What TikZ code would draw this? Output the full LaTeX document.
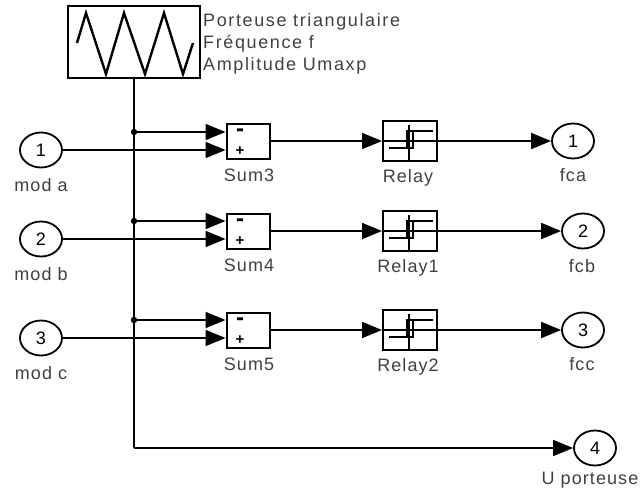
\documentclass[tikz,border=0pt]{standalone}
\usepackage{fontspec}
\setmainfont[LetterSpace=6]{Liberation Sans}
\usetikzlibrary{shapes.geometric, arrows.meta}

\begin{document}
\begin{tikzpicture}[x=1pt, y=-1pt,
    block/.style = {rectangle, draw, line width=2pt, minimum width=43pt, minimum height=35pt, inner sep=0pt},
    relay/.style = {rectangle, draw, line width=2pt, minimum width=54pt, minimum height=40pt, inner sep=0pt},
    port/.style = {ellipse, draw, line width=1.8pt, minimum width=42pt, minimum height=35pt, inner sep=0pt},
    caption/.style = {inner sep=0pt, text=black!75},
    wire/.style = {line width=1.8pt},
    sig/.style = {wire, -{Triangle[length=20pt, width=16pt]}},
    font=\fontsize{18pt}{21.7pt}\selectfont]
  \useasboundingbox (0, 0) rectangle (642, 493);

  % Carrier.
  \node at (134, 42) [rectangle, draw, line width=2pt, minimum width=132pt, minimum height=72pt, name=Carrier] {};
  \draw [line width=2.4pt] (77, 43) -- (86, 13) -- (106, 74) -- (124, 13) -- (145, 74) -- (164, 13) -- (183, 74) -- (193, 43);
  \node at (203, 44) [right, inner sep=0pt, align=left, caption, name=CarrierText] {\addfontfeature{LetterSpace=9}Porteuse triangulaire\\\addfontfeature{LetterSpace=9}Fr\'equence f\\\addfontfeature{LetterSpace=9}Amplitude Umaxp};

  % Inputs.
  \node at (41, 150) [port, name=ModA] {1};
  \node at (41, 239) [port, name=ModB] {2};
  \node at (41, 338) [port, name=ModC] {3};
  \node at (41, 185) [caption, name=ModAText] {mod a};
  \node at (41, 274) [caption, name=ModBText] {mod b};
  \node at (41, 373) [caption, name=ModCText] {mod c};

  % Sums.
  \foreach \name/\y/\label in {SumA/141/Sum3, SumB/231/Sum4, SumC/330/Sum5} {
    \node at (248, \y) [block, name=\name] {};
    \node at (249, \y+34) [caption, name=\name Text] {\label};
    \node at (240, \y-8) [inner sep=0pt, font=\bfseries\fontsize{24pt}{24pt}\selectfont, name=\name Minus] {-};
    \node at (240, \y+10) [inner sep=0pt, font=\bfseries\fontsize{15pt}{15pt}\selectfont, name=\name Plus] {+};
  }

  % Relays.
  \foreach \name/\y/\label in {RelayA/141/Relay, RelayB/231/Relay1, RelayC/330/Relay2} {
    \node at (410, \y) [relay, name=\name] {};
    \node at (408, \y+37) [caption, name=\name Text] {\label};
    \draw [line width=1.4pt] (\name.west) -- (\name.east);
    \draw [line width=1.4pt] (409, \y-16) -- (409, \y+20);
    \draw [line width=1.8pt] (389, \y+7) -- (413, \y+7) -- (413, \y-10) (407, \y+7) -- (407, \y-10) -- (433, \y-10);
  }

  % Outputs.
  \node at (573, 141) [port, name=Fca] {1};
  \node at (583, 231) [port, name=Fcb] {2};
  \node at (583, 330) [port, name=Fcc] {3};
  \node at (595, 448) [port, name=Porteuse] {4};
  \node at (573, 175) [caption, name=FcaText] {fca};
  \node at (582, 266) [caption, name=FcbText] {fcb};
  \node at (582, 364) [caption, name=FccText] {fcc};
  \node at (590, 480) [caption, name=PorteuseText] {U porteuse};

  % Carrier line.
  \coordinate (Corner) at (Carrier.south |- Porteuse.west);
  \draw [wire] (Carrier.south) -- (Corner);
  \draw [sig] (Corner) -- (Porteuse.west);
  \foreach \name/\y in {SumA/132, SumB/221, SumC/320} {
    \coordinate (\name Tap) at (134, \y);
    \fill (\name Tap) circle (3.2pt);
    \draw [sig] (\name Tap) -- (\name.west |- \name Tap);
  }

  % Modulation lines.
  \draw [sig] (ModA.east) -- (SumA.west |- ModA.east);
  \draw [sig] (ModB.east) -- (SumB.west |- ModB.east);
  \draw [sig] (ModC.east) -- (SumC.west |- ModC.east);

  \draw [sig] (SumA.east) -- (RelayA.west);
  \draw [sig] (SumB.east) -- (RelayB.west);
  \draw [sig] (SumC.east) -- (RelayC.west);

  \draw [sig] (RelayA.east) -- (Fca.west);
  \draw [sig] (RelayB.east) -- (Fcb.west);
  \draw [sig] (RelayC.east) -- (Fcc.west);
\end{tikzpicture}
\end{document}
